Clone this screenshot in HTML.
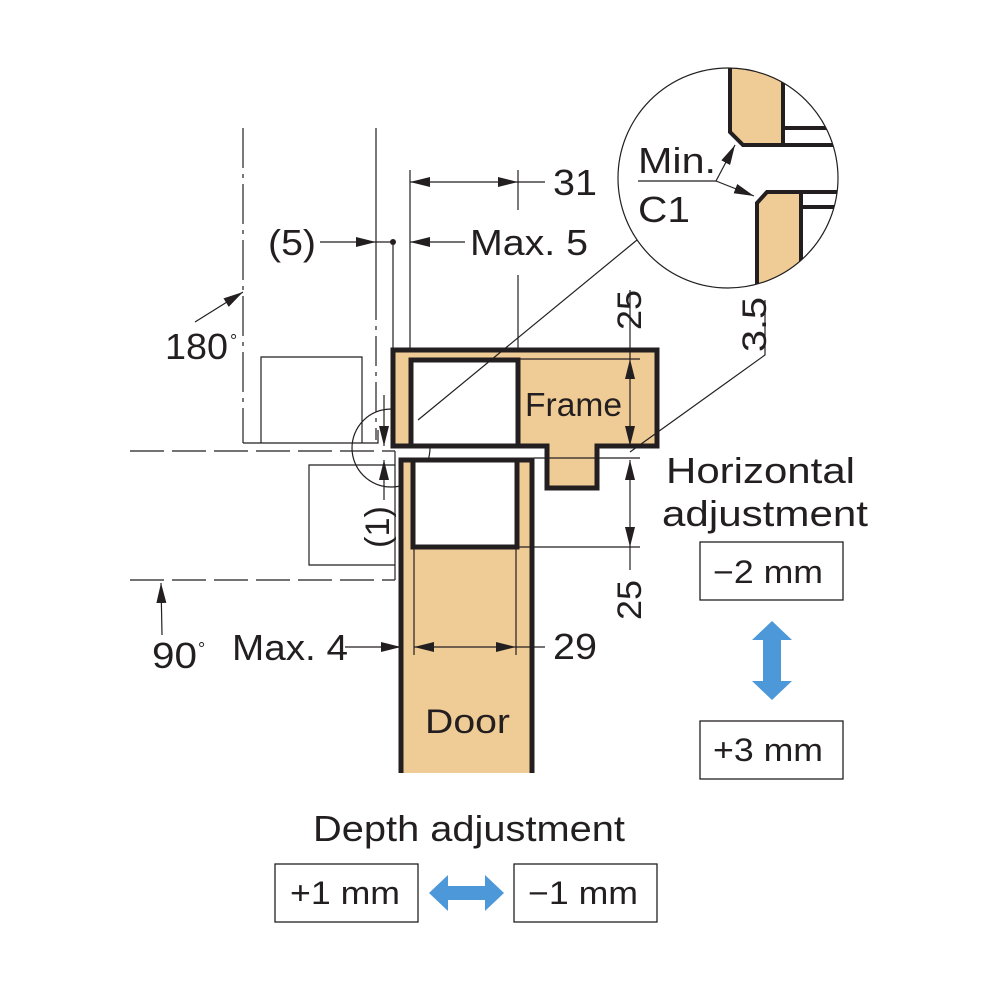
<!DOCTYPE html>
<html><head><meta charset="utf-8"><style>
html,body{margin:0;padding:0;background:#fff}
svg{display:block}
text{font-family:"Liberation Sans",Arial,sans-serif;fill:#231f20}
</style></head><body>
<svg width="1000" height="1000" viewBox="0 0 1000 1000" xmlns="http://www.w3.org/2000/svg">
<defs>
<marker id="b" viewBox="0 0 20 10" refX="20" refY="5" markerWidth="20" markerHeight="10" orient="auto-start-reverse" markerUnits="userSpaceOnUse"><path d="M0,0 L20,5 L0,10 z" fill="#231f20"/></marker>
<clipPath id="cc"><circle cx="728" cy="178" r="110"/></clipPath>
</defs>
<g stroke="#231f20" fill="none" stroke-width="1.2">
<line x1="243" y1="128" x2="243" y2="443" stroke-dasharray="40,6,4,6"/>
<line x1="376" y1="128" x2="376" y2="290"/>
<line x1="376" y1="290" x2="376" y2="440" stroke-dasharray="30,6,4,6"/>
<polyline points="243,443 378,443 378,430"/>
<polyline points="261,443 261,357 362,357 362,443"/>
<line x1="130" y1="451" x2="395" y2="451" stroke-dasharray="34,8"/>
<polyline points="395,451 395,465 309,465 309,565 395,565"/>
<line x1="395" y1="465" x2="395" y2="580"/>
<line x1="130" y1="580" x2="395" y2="580" stroke-dasharray="34,8"/>
<circle cx="391" cy="448" r="39"/>
</g>
<path d="M393,350 L657,350 L657,446 L597,446 L597,488 L547,488 L547,446 L393,446 Z" fill="#efcb96" stroke="#231f20" stroke-width="5"/>
<rect x="411" y="360" width="107" height="86" fill="#fff" stroke="#231f20" stroke-width="5"/>
<path d="M401,773 L401,460 L532,460 L532,773" fill="#efcb96" stroke="#231f20" stroke-width="5"/>
<rect x="413" y="460" width="104" height="87" fill="#fff" stroke="#231f20" stroke-width="5"/>
<g stroke="#231f20" stroke-width="1.2" fill="none">
<line x1="414" y1="547" x2="414" y2="655"/>
<line x1="516" y1="547" x2="516" y2="655"/>
<line x1="410" y1="170" x2="410" y2="350"/>
<line x1="518" y1="170" x2="518" y2="210"/>
<line x1="518" y1="275" x2="518" y2="350"/>
<line x1="410" y1="182" x2="518" y2="182" marker-start="url(#b)" marker-end="url(#b)"/>
<line x1="518" y1="182" x2="545" y2="182"/>
<line x1="393" y1="242" x2="393" y2="350"/>
<line x1="320" y1="242" x2="376" y2="242" marker-end="url(#b)"/>
<line x1="376" y1="242" x2="393" y2="242"/>
<line x1="465" y1="242" x2="410" y2="242" marker-end="url(#b)"/>
<line x1="195" y1="322" x2="243" y2="292" marker-end="url(#b)"/>
<line x1="384" y1="395" x2="384" y2="446" marker-end="url(#b)"/>
<line x1="384" y1="500" x2="384" y2="460" marker-end="url(#b)"/>
<line x1="630" y1="290" x2="630" y2="359"/>
<line x1="520" y1="359" x2="640" y2="359"/>
<line x1="534" y1="458" x2="640" y2="458"/>
<line x1="518" y1="547" x2="640" y2="547"/>
<line x1="630" y1="359" x2="630" y2="446" marker-start="url(#b)" marker-end="url(#b)"/>
<line x1="630" y1="460" x2="630" y2="547" marker-start="url(#b)" marker-end="url(#b)"/>
<line x1="630" y1="547" x2="630" y2="570"/>
<polyline points="630,452 765,355 765,300"/>
<line x1="418" y1="420" x2="637" y2="240"/>
<line x1="345" y1="647" x2="401" y2="647" marker-end="url(#b)"/>
<line x1="414" y1="647" x2="516" y2="647" marker-start="url(#b)" marker-end="url(#b)"/>
<line x1="516" y1="647" x2="545" y2="647"/>
<line x1="162" y1="635" x2="161" y2="583" marker-end="url(#b)"/>
</g>
<circle cx="393" cy="242" r="3" fill="#231f20"/>
<g clip-path="url(#cc)">
<path d="M730,60 L730,132 L743,145 L783,145 L783,60 Z" fill="#efcb96"/>
<path d="M757,300 L757,203 L767,192 L801,192 L801,300 Z" fill="#efcb96"/>
<g stroke="#231f20" stroke-width="4" fill="none">
<polyline points="730,60 730,132 743,145 840,145"/>
<line x1="783" y1="60" x2="783" y2="145"/>
<line x1="783" y1="128" x2="840" y2="128"/>
<polyline points="757,300 757,203 767,192 840,192"/>
<line x1="801" y1="192" x2="801" y2="300"/>
<line x1="801" y1="207" x2="840" y2="207"/>
</g>
</g>
<circle cx="728" cy="178" r="110" fill="none" stroke="#231f20" stroke-width="1.2"/>
<g stroke="#231f20" stroke-width="1.2" fill="none">
<line x1="638" y1="181" x2="716" y2="181"/>
<line x1="716" y1="181" x2="735" y2="145" marker-end="url(#b)"/>
<line x1="716" y1="181" x2="754" y2="196" marker-end="url(#b)"/>
</g>
<g font-size="36" lengthAdjust="spacingAndGlyphs">
<text x="638" y="173" textLength="78" lengthAdjust="spacingAndGlyphs">Min.</text>
<text x="638" y="222" textLength="52" lengthAdjust="spacingAndGlyphs">C1</text>
<text x="553" y="195" textLength="44" lengthAdjust="spacingAndGlyphs">31</text>
<text x="470" y="255" textLength="118" lengthAdjust="spacingAndGlyphs">Max. 5</text>
<text x="268" y="255" textLength="48" lengthAdjust="spacingAndGlyphs">(5)</text>
<text x="165" y="359" textLength="63" lengthAdjust="spacingAndGlyphs">180</text>
<text x="152" y="668" textLength="45" lengthAdjust="spacingAndGlyphs">90</text>
<text x="232" y="660" textLength="116" lengthAdjust="spacingAndGlyphs">Max. 4</text>
<text x="553" y="659" textLength="44" lengthAdjust="spacingAndGlyphs">29</text>
<text x="525" y="416" font-size="33" textLength="97" lengthAdjust="spacingAndGlyphs">Frame</text>
<text x="425" y="733" font-size="34" textLength="85" lengthAdjust="spacingAndGlyphs">Door</text>
<text x="666" y="483" textLength="189" lengthAdjust="spacingAndGlyphs">Horizontal</text>
<text x="662" y="526" textLength="206" lengthAdjust="spacingAndGlyphs">adjustment</text>
<text x="313" y="841" textLength="312" lengthAdjust="spacingAndGlyphs">Depth adjustment</text>
<text font-size="34" transform="translate(641,330) rotate(-90)" textLength="40" lengthAdjust="spacingAndGlyphs">25</text>
<text font-size="34" transform="translate(641,620) rotate(-90)" textLength="40" lengthAdjust="spacingAndGlyphs">25</text>
<text font-size="34" transform="translate(766,352) rotate(-90)" textLength="55" lengthAdjust="spacingAndGlyphs">3.5</text>
<text font-size="34" transform="translate(389,548) rotate(-90)" textLength="42" lengthAdjust="spacingAndGlyphs">(1)</text>
</g>
<text x="230" y="347" font-size="18">°</text>
<text x="198" y="655" font-size="18">°</text>
<g fill="none" stroke="#231f20" stroke-width="1.3">
<rect x="700" y="542" width="143" height="58"/>
<rect x="700" y="721" width="143" height="58"/>
<rect x="275" y="864" width="143" height="58"/>
<rect x="514" y="864" width="143" height="58"/>
</g>
<g font-size="32">
<text x="713" y="583" textLength="110" lengthAdjust="spacingAndGlyphs">−2 mm</text>
<text x="713" y="761" textLength="110" lengthAdjust="spacingAndGlyphs">+3 mm</text>
<text x="290" y="904" textLength="110" lengthAdjust="spacingAndGlyphs">+1 mm</text>
<text x="528" y="904" textLength="110" lengthAdjust="spacingAndGlyphs">−1 mm</text>
</g>
<path d="M772,621 L792,640 L781,640 L781,681 L792,681 L772,700 L752,681 L763,681 L763,640 L752,640 Z" fill="#4d98d9"/>
<path d="M429,893 L448,875 L448,886 L485,886 L485,875 L504,893 L485,911 L485,900 L448,900 L448,911 Z" fill="#4d98d9"/>
</svg>
</body></html>
